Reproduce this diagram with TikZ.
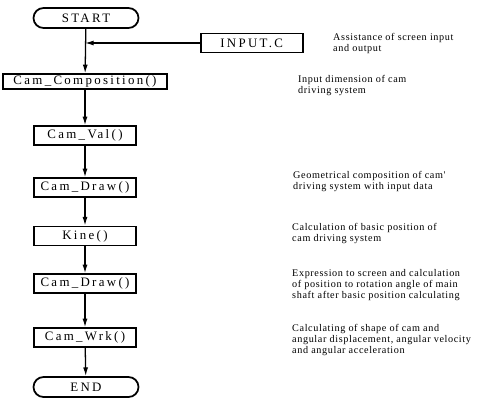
\documentclass[tikz,border=0pt]{standalone}
\usepackage{fontspec}
\setmainfont{Liberation Serif}
\newfontfamily\boxfont[LetterSpace=18]{Liberation Serif}
\newfontfamily\notefont[LetterSpace=6]{Liberation Serif}
\usepackage{tikz}
\usetikzlibrary{arrows.meta,shapes.misc}

\begin{document}
\begin{tikzpicture}[
    fbox/.style={draw, line width=1.5pt, minimum width=3.06cm, minimum height=0.57cm, inner sep=0pt, font={\boxfont\fontsize{11}{12}\selectfont}},
    term/.style={fbox, rounded rectangle, minimum width=3.15cm, minimum height=0.6cm},
    note/.style={anchor=west, align=left, inner sep=0pt, font={\notefont\fontsize{8.7}{9.4}\selectfont}},
    flow/.style={-{Latex[length=2.6mm,width=1.5mm]}, line width=1.1pt}]
  \useasboundingbox (0,0) rectangle (14.46,-12.15);

   \draw (2.58,-0.54) node[term] (start) {START};
   \draw (7.55,-1.29) node[fbox] (inputc) {INPUT.C};
   \coordinate (join) at (2.55,-1.29);
   \draw (2.55,-2.45) node[fbox, minimum width=4.92cm, minimum height=0.45cm] (comp) {Cam\_Composition()};
   \draw (2.55,-4.07) node[fbox] (val) {Cam\_Val()};
   \draw (2.55,-5.63) node[fbox] (draw) {Cam\_Draw()};
   \draw (2.55,-7.08) node[fbox] (kine) {Kine()};
   \draw (2.55,-8.51) node[fbox] (draw2) {Cam\_Draw()};
   \draw (2.55,-10.13) node[fbox] (wrk) {Cam\_Wrk()};
   \draw (2.58,-11.61) node[term] (end) {END};

   % notes on the right
   \draw (9.99,-1.30) node[note] (n1) {Assistance of screen input\\and output};
   \draw (8.94,-2.58) node[note] (n2) {Input dimension of cam\\driving system};
   \draw (8.79,-5.46) node[note] (n3) {Geometrical composition of cam'\\driving system with input data};
   \draw (8.76,-7.02) node[note] (n4) {Calculation of basic position of\\cam driving system};
   \draw (8.76,-8.55) node[note] (n5) {Expression to screen and calculation\\of position to rotation angle of main\\shaft after basic position calculating};
   \draw (8.76,-10.20) node[note] (n6) {Calculating of shape of cam and\\angular displacement, angular velocity\\and angular acceleration};

     \path[flow] (start) edge (comp);
     \path[flow] (inputc) edge (join);
     \path[flow] (comp) edge (val);
     \path[flow] (val) edge (draw);
     \path[flow] (draw) edge (kine);
     \path[flow] (kine) edge (draw2);
     \path[flow] (draw2) edge (wrk);
     \path[flow] (wrk) edge (end);

\end{tikzpicture}
\end{document}
